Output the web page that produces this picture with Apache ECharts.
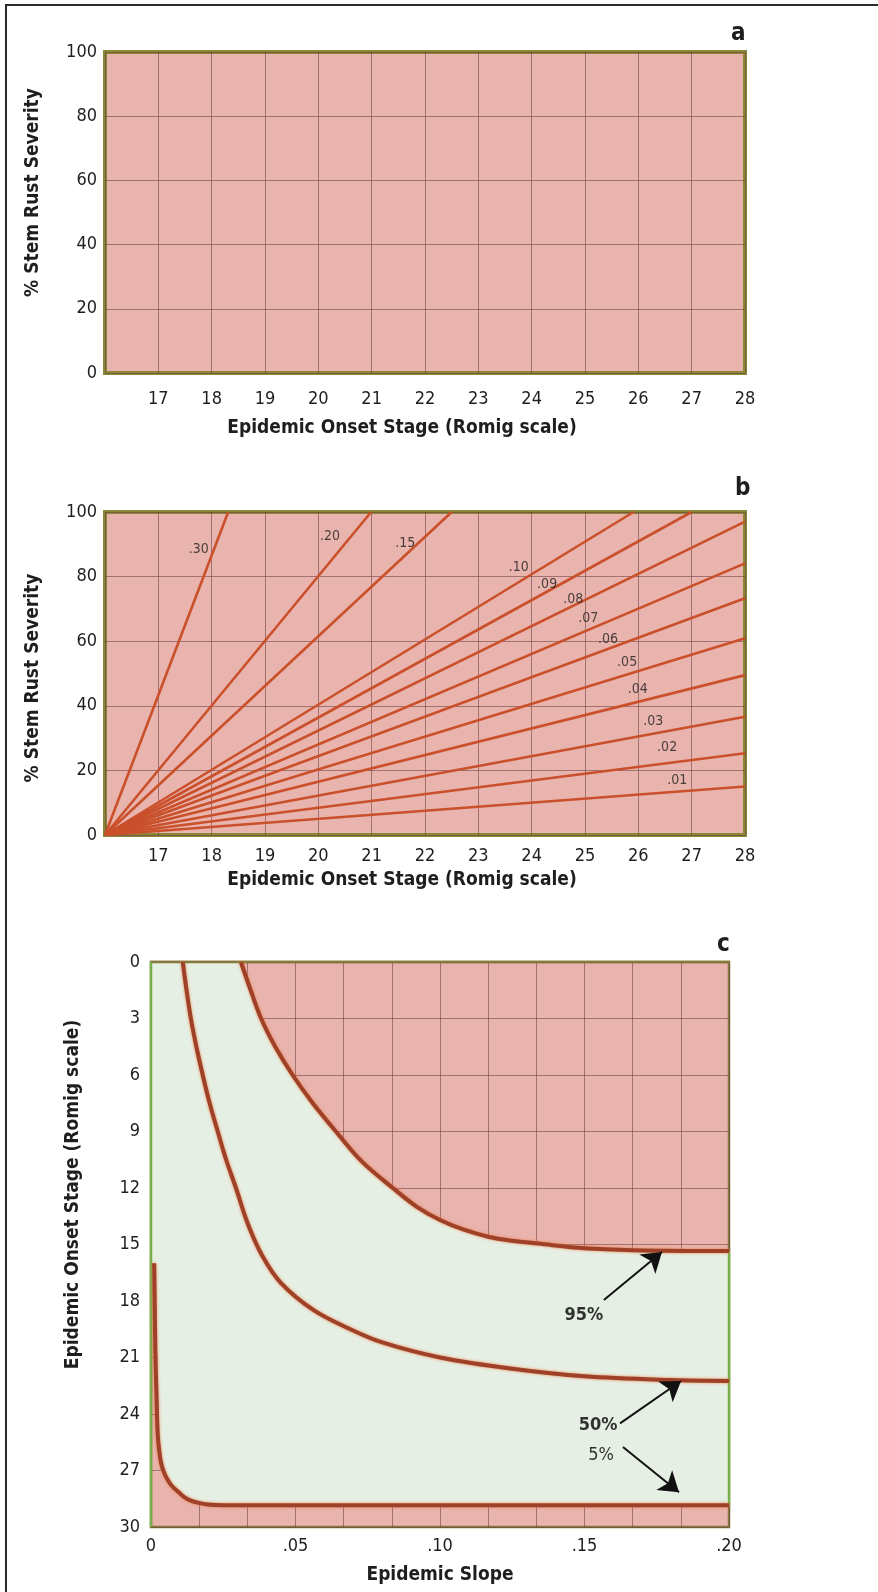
<!DOCTYPE html>
<html><head><meta charset="utf-8">
<script src="https://cdn.jsdelivr.net/npm/echarts@6/dist/echarts.min.js"></script>
<style>html,body{margin:0;padding:0;background:#fff}#c{width:878px;height:1592px}</style>
</head><body><div id="c"></div>
<script>
// ---------- Panel a / b axes ----------
const stageMin = 16, stageMax = 28;
const severityMin = 0, severityMax = 100;

// ---------- Panel b: severity lines (start at stage 16, severity 0) ----------
const slopeLabels     = ['.30','.20','.15','.10','.09','.08','.07','.06','.05','.04','.03','.02','.01'];
const lineEndStage    = [18.31, 20.99, 22.5, 25.91, 27.0, 28, 28, 28, 28, 28, 28, 28, 28];
const lineEndSeverity = [100, 100, 100, 100, 100, 97.0, 84.1, 73.3, 60.9, 49.5, 36.6, 25.3, 15.0];
const labelStage      = [17.76, 20.22, 21.63, 23.76, 24.29, 24.78, 25.06, 25.43, 25.79, 25.99, 26.28, 26.54, 26.73];
const labelSeverity   = [88.5, 92.4, 90.4, 83.0, 77.7, 73.1, 67.0, 60.7, 53.3, 45.2, 35.3, 27.0, 17.0];

// ---------- Panel c ----------
const slopeMin = 0, slopeMax = 0.2;
const onsetMin = 0, onsetMax = 30;
const slopeTickLabels = ['0', '.05', '.10', '.15', '.20'];

const curve95Slope = [0.0311, 0.0345, 0.0381, 0.043, 0.049, 0.056, 0.064, 0.073, 0.0837, 0.092, 0.1, 0.108, 0.117, 0.125, 0.134, 0.15, 0.167, 0.2];
const curve95Onset = [0, 1.5, 3, 4.5, 6, 7.5, 9, 10.6, 12, 13.0, 13.7, 14.2, 14.6, 14.8, 14.95, 15.2, 15.3, 15.35];

const curve50Slope = [0.011, 0.0123, 0.0138, 0.0157, 0.0179, 0.0203, 0.0231, 0.026, 0.0294, 0.0335, 0.0385, 0.045, 0.0564, 0.069, 0.08, 0.1, 0.125, 0.15, 0.18, 0.2];
const curve50Onset = [0, 1.5, 3, 4.5, 6, 7.5, 9, 10.5, 12, 13.9, 15.6, 17.05, 18.5, 19.5, 20.2, 21.0, 21.6, 22.0, 22.2, 22.25];

const curve5Slope = [0.0011, 0.0013, 0.0015, 0.0019, 0.0023, 0.0028, 0.0035, 0.0045, 0.0058, 0.0074, 0.0092, 0.0114, 0.0138, 0.0165, 0.0196, 0.025, 0.04, 0.2];
const curve5Onset = [16, 18.3, 20.6, 23, 25, 25.9, 26.6, 27.1, 27.5, 27.85, 28.1, 28.4, 28.6, 28.72, 28.8, 28.84, 28.85, 28.85];

const pctLabels      = ['95%', '50%', '5%'];
const pctLabelSlope  = [0.1498, 0.1547, 0.1557];
const pctLabelOnset  = [18.75, 24.6, 26.2];
const arrowFromSlope = [0.1567, 0.1623, 0.1633];
const arrowFromOnset = [17.95, 24.5, 25.75];
const arrowToSlope   = [0.1768, 0.1834, 0.1827];
const arrowToOnset   = [15.4, 22.25, 28.15];

// ---------- styles ----------
const FONT = "'Liberation Sans Narrow','DejaVu Sans Condensed','Liberation Sans',Arial,sans-serif";
const PINK = '#e9b4ad';
const LIGHT = '#e6efe4';
const OLIVE = '#8b8838';
const OLIVE_C = '#857a3c';
const GREEN = '#79b04d';
const GRIDC = 'rgba(105,60,60,0.55)';
const LINEB = '#c9502b';
const CURVE = '#9e4128';
const TXT = '#1e1e1e';

const tickLabel = (margin) => ({fontFamily: FONT, fontSize: 18, color: TXT, margin: margin});
const nameStyle = (pad) => ({fontFamily: FONT, fontSize: 19, fontWeight: 'bold', color: TXT, padding: pad});

function stageXAxis(grid, margin, gap) {
  return {
    gridIndex: grid, type: 'value', min: stageMin, max: stageMax, interval: 1,
    axisLine: {show: false}, axisTick: {show: false},
    axisLabel: Object.assign(tickLabel(margin), {formatter: v => v === stageMin ? '' : String(v)}),
    splitLine: {show: true, lineStyle: {color: GRIDC, width: 1}},
    name: 'Epidemic Onset Stage (Romig scale)', nameLocation: 'middle', nameGap: gap,
    nameTextStyle: nameStyle([0, 46, 0, 0])
  };
}
function severityYAxis(grid, pad) {
  return {
    gridIndex: grid, type: 'value', min: severityMin, max: severityMax, interval: 20,
    axisLine: {show: false}, axisTick: {show: false},
    axisLabel: tickLabel(8),
    splitLine: {show: true, lineStyle: {color: GRIDC, width: 1}},
    name: '% Stem Rust Severity', nameLocation: 'middle', nameGap: 62,
    nameTextStyle: nameStyle(pad)
  };
}

const series = [];

// Panel b lines
slopeLabels.forEach((lab, i) => {
  series.push({
    type: 'line', xAxisIndex: 1, yAxisIndex: 1, name: lab,
    data: [[stageMin, severityMin], [lineEndStage[i], lineEndSeverity[i]]],
    showSymbol: false, silent: true,
    lineStyle: {color: LINEB, width: 2.6}, z: 3
  });
});
series.push({
  type: 'scatter', xAxisIndex: 1, yAxisIndex: 1, symbolSize: 1,
  itemStyle: {color: 'rgba(0,0,0,0)'},
  data: labelStage.map((s, i) => [s, labelSeverity[i]]),
  label: {show: true, position: 'inside', formatter: p => slopeLabels[p.dataIndex],
          fontFamily: FONT, fontSize: 14, color: '#1e1e1e', textBorderWidth: 0},
  z: 4
});

// Panel c light region (drawn over the pink grid so the grid lines only show in pink zones)
function renderLight(params, api) {
  const pts = [api.coord([slopeMin, onsetMin])];
  for (let i = 0; i < curve95Slope.length; i++) pts.push(api.coord([curve95Slope[i], curve95Onset[i]]));
  for (let i = curve5Slope.length - 1; i >= 0; i--) pts.push(api.coord([curve5Slope[i], curve5Onset[i]]));
  pts.push(api.coord([slopeMin, curve5Onset[0]]));
  const n95 = curve95Slope.length - 1, n5 = curve5Slope.length - 1;
  const tl = api.coord([slopeMin, onsetMin]), bl = api.coord([slopeMin, onsetMax]), tr = api.coord([slopeMax, onsetMin]);
  const r1 = api.coord([curve95Slope[n95], curve95Onset[n95]]);
  const r2 = api.coord([curve5Slope[n5], curve5Onset[n5]]);
  return {type: 'group', children: [
    {type: 'polygon', shape: {points: pts}, style: {fill: LIGHT}},
    {type: 'line', shape: {x1: tl[0] - 1, y1: tl[1], x2: tr[0] + 1, y2: tr[1]}, style: {stroke: OLIVE_C, lineWidth: 2.5}},
    {type: 'line', shape: {x1: tl[0], y1: tl[1], x2: bl[0], y2: bl[1]}, style: {stroke: GREEN, lineWidth: 2.5}},
    {type: 'line', shape: {x1: r1[0], y1: r1[1], x2: r2[0], y2: r2[1]}, style: {stroke: GREEN, lineWidth: 2.5}}
  ]};
}
series.push({
  type: 'custom', xAxisIndex: 2, yAxisIndex: 2, silent: true,
  data: [[slopeMin, onsetMin]], renderItem: renderLight, z: 1
});

[[curve95Slope, curve95Onset, '95%'], [curve50Slope, curve50Onset, '50%'], [curve5Slope, curve5Onset, '5%']].forEach(c => {
  series.push({
    type: 'line', xAxisIndex: 2, yAxisIndex: 2, name: c[2], silent: true,
    data: c[0].map((s, i) => [s, c[1][i]]), showSymbol: false, smooth: 0.35,
    lineStyle: {color: CURVE, width: 4, shadowColor: 'rgba(235,125,70,0.95)', shadowBlur: 3},
    z: 3
  });
});

series.push({
  type: 'scatter', xAxisIndex: 2, yAxisIndex: 2, symbolSize: 1,
  itemStyle: {color: 'rgba(0,0,0,0)'},
  data: pctLabels.map((t, i) => ({value: [pctLabelSlope[i], pctLabelOnset[i]],
    label: {fontWeight: i < 2 ? 'bold' : 'normal'}})),
  label: {show: true, position: 'inside', formatter: p => pctLabels[p.dataIndex],
          fontFamily: FONT, fontSize: 18, color: '#000', textBorderWidth: 0},
  z: 6
});
series.push({
  type: 'lines', coordinateSystem: 'cartesian2d', xAxisIndex: 2, yAxisIndex: 2, silent: true,
  symbol: ['none', 'arrow'], symbolSize: 19,
  lineStyle: {color: '#111', width: 2, opacity: 1},
  data: pctLabels.map((t, i) => ({coords: [[arrowFromSlope[i], arrowFromOnset[i]], [arrowToSlope[i], arrowToOnset[i]]]})),
  z: 6
});

const option = {
  animation: false,
  backgroundColor: '#fff',
  title: [
    {text: 'a', left: 731, top: 22, padding: 0, textStyle: {fontFamily: FONT, fontSize: 24, fontWeight: 'bold', color: TXT}},
    {text: 'b', left: 735, top: 477, padding: 0, textStyle: {fontFamily: FONT, fontSize: 24, fontWeight: 'bold', color: TXT}},
    {text: 'c', left: 717, top: 933, padding: 0, textStyle: {fontFamily: FONT, fontSize: 24, fontWeight: 'bold', color: TXT}}
  ],
  graphic: [
    {type: 'line', shape: {x1: 5, y1: 5, x2: 878, y2: 5}, style: {stroke: '#2b2b2b', lineWidth: 2}},
    {type: 'line', shape: {x1: 6, y1: 5, x2: 6, y2: 1592}, style: {stroke: '#2b2b2b', lineWidth: 2}}
  ],
  grid: [
    {left: 105, top: 52, width: 640, height: 321, show: true, backgroundColor: PINK, borderColor: OLIVE, borderWidth: 4},
    {left: 105, top: 512, width: 640, height: 323, show: true, backgroundColor: PINK, borderColor: OLIVE, borderWidth: 4},
    {left: 151, top: 962, width: 578, height: 565, show: true, backgroundColor: PINK, borderColor: OLIVE_C, borderWidth: 2.5}
  ],
  xAxis: [
    stageXAxis(0, 17, 46),
    stageXAxis(1, 12, 36),
    {
      gridIndex: 2, type: 'value', min: slopeMin, max: slopeMax, interval: 0.05,
      axisLine: {show: false}, axisTick: {show: false},
      axisLabel: Object.assign(tickLabel(10), {formatter: (v) => slopeTickLabels[Math.round(v / 0.05)]}),
      splitLine: {show: true, lineStyle: {color: GRIDC, width: 1}},
      minorTick: {show: false, splitNumber: 3},
      minorSplitLine: {show: true, lineStyle: {color: GRIDC, width: 1}},
      name: 'Epidemic Slope', nameLocation: 'middle', nameGap: 39,
      nameTextStyle: nameStyle([0, 0, 0, 0])
    }
  ],
  yAxis: [
    severityYAxis(0, [0, 0, 0, 40]),
    severityYAxis(1, [0, 9, 0, 0]),
    {
      gridIndex: 2, type: 'value', inverse: true, min: onsetMin, max: onsetMax, interval: 3,
      axisLine: {show: false}, axisTick: {show: false},
      axisLabel: tickLabel(11),
      splitLine: {show: true, lineStyle: {color: GRIDC, width: 1}},
      name: 'Epidemic Onset Stage (Romig scale)', nameLocation: 'middle', nameGap: 68,
      nameTextStyle: nameStyle([0, 0, 0, 100])
    }
  ],
  series: series
};

const chart = echarts.init(document.getElementById('c'), null, {renderer: 'canvas'});
chart.setOption(option);
</script>
</body></html>
